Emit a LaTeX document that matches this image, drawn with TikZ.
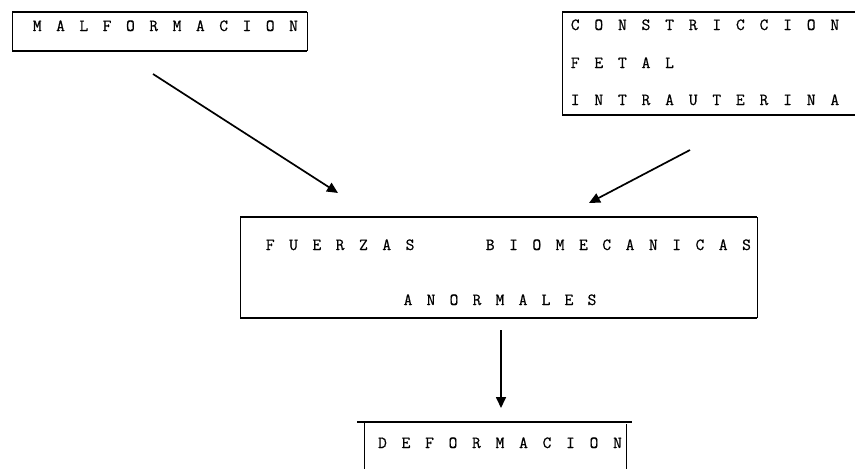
\documentclass[tikz,border=0pt]{standalone}
\usepackage{fontspec}
\newfontfamily\twfont[FakeBold=0.7]{Latin Modern Mono}
\usetikzlibrary{arrows.meta}
\makeatletter
\newcommand\lsp[2]{\@tfor\lsp@ch:=#2\do{\makebox[#1]{\lsp@ch}}}
\makeatother
\tikzset{
  hline/.style={line width=1.8pt},
  vline/.style={line width=0.9pt},
  txt/.style={inner sep=0pt, font=\twfont\fontsize{17}{19}\selectfont},
  arr/.style={line width=1.7pt, -{Triangle[length=11pt,width=10pt]}}
}
\begin{document}
\begin{tikzpicture}[x=1pt,y=-1pt]
\useasboundingbox[fill=white] (0,0) rectangle (855,469);

% texts
\node[txt, anchor=base west] (malf) at (25.4,31) {\lsp{23.3pt}{MALFORMACION}};
\node[txt, anchor=base west] (con1) at (563.2,30) {\lsp{23.6pt}{CONSTRICCION}};
\node[txt, anchor=base west] (con2) at (563.2,68) {\lsp{23.6pt}{FETAL}};
\node[txt, anchor=base west] (con3) at (563.2,105) {\lsp{23.6pt}{INTRAUTERINA}};
\node[txt, anchor=base west] (fue1) at (258.4,250) {\lsp{23.3pt}{FUERZAS}\hspace{56.9pt}\lsp{23.3pt}{BIOMECANICAS}};
\node[txt, anchor=base] (fue2) at (500,305) {\lsp{23pt}{ANORMALES}};
\node[txt, anchor=base] (defo) at (500,448) {\lsp{23.5pt}{DEFORMACION}};

% box corners
\coordinate (mNW) at (12,12);  \coordinate (mSE) at (307,51);
\coordinate (cNW) at (562,12); \coordinate (cSE) at (855,115);
\coordinate (fNW) at (240,217); \coordinate (fSE) at (757,318);

% MALFORMACION box
\draw[hline] (mNW) -- (mNW -| mSE);
\draw[hline] (mNW |- mSE) -- (mSE);
\draw[vline] (mNW) -- (mNW |- mSE);
\draw[vline] (mNW -| mSE) -- (mSE);

% CONSTRICCION box (open to the right edge)
\draw[hline] (cNW) -- (cNW -| cSE);
\draw[hline] (cNW |- cSE) -- (cSE);
\draw[vline] (cNW) -- (cNW |- cSE);

% FUERZAS box
\draw[hline] (fNW) -- (fNW -| fSE);
\draw[hline] (fNW |- fSE) -- (fSE);
\draw[vline] (fNW) -- (fNW |- fSE);
\draw[vline] (fNW -| fSE) -- (fSE);

% DEFORMACION box (cut at bottom)
\coordinate (dTL) at (357,422); \coordinate (dTR) at (632,422);
\coordinate (dL1) at (364,422); \coordinate (dL2) at (364,469);
\coordinate (dR1) at (626,424); \coordinate (dR2) at (626,469);
\draw[hline] (dTL) -- (dTR);
\draw[vline] (dL1) -- (dL2);
\draw[vline] (dR1) -- (dR2);

% arrows
\coordinate (a1s) at (153,74);  \coordinate (a1e) at (338,193);
\coordinate (a2s) at (690,150); \coordinate (a2e) at (589,203);
\coordinate (a3s) at (501,330); \coordinate (a3e) at (501,408);
\draw[arr] (a1s) -- (a1e);
\draw[arr] (a2s) -- (a2e);
\draw[arr] (a3s) -- (a3e);
\end{tikzpicture}
\end{document}
